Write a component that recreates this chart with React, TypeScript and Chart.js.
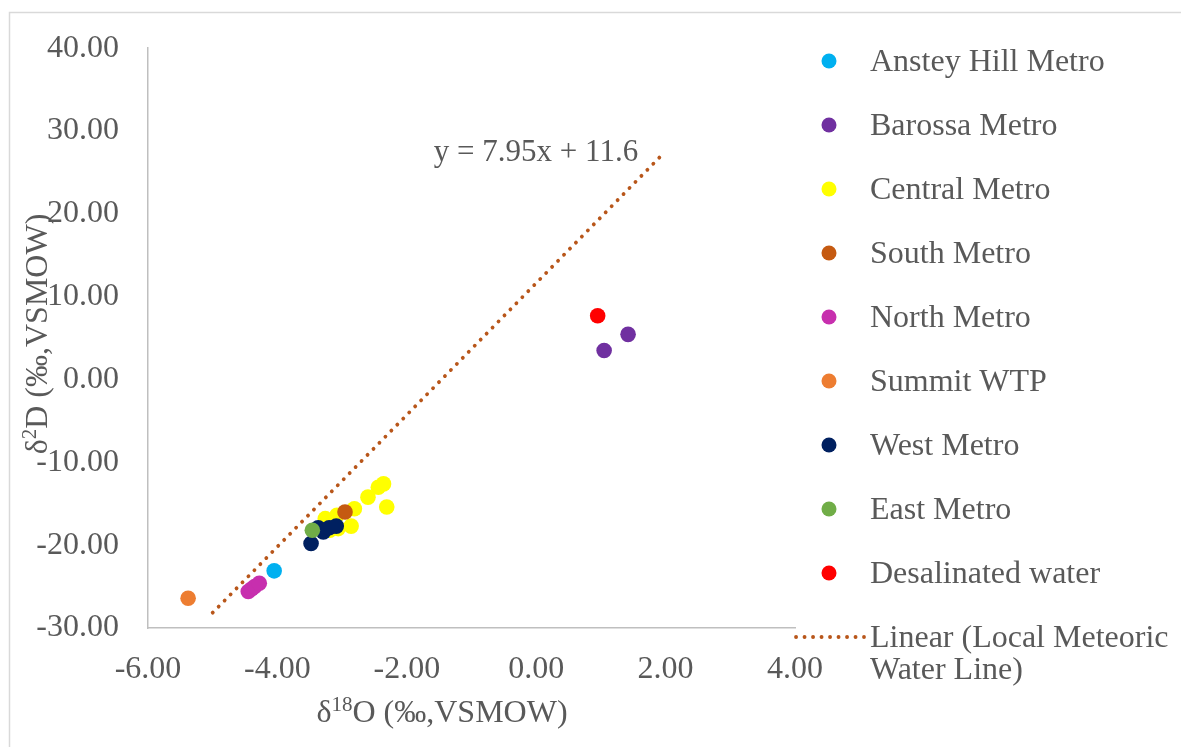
import React, { useEffect, useRef } from "react";
import { Chart, registerables } from "chart.js";

Chart.register(...registerables);

// ---------- data ----------
const seriesNames = [
  "Anstey Hill Metro",
  "Barossa Metro",
  "Central Metro",
  "South Metro",
  "North Metro",
  "Summit WTP",
  "West Metro",
  "East Metro",
  "Desalinated water",
];
const seriesColors = [
  "#00B0F0",
  "#7030A0",
  "#FFFF00",
  "#C55A11",
  "#C72FAE",
  "#ED7D31",
  "#002060",
  "#70AD47",
  "#FF0000",
];

const ansteyX = [-4.05];
const ansteyY = [-23.1];
const barossaX = [1.05, 1.42];
const barossaY = [3.5, 5.45];
const centralX = [-3.26, -3.08, -2.81, -2.86, -3.19, -2.6, -2.44, -2.36, -2.31, -3.06];
const centralY = [-16.8, -16.4, -15.6, -17.7, -18.2, -14.2, -13.0, -12.6, -15.4, -18.0];
const southX = [-2.955];
const southY = [-16.0];
const northX = [-4.45, -4.4, -4.35, -4.28];
const northY = [-25.6, -25.3, -25.0, -24.6];
const summitX = [-5.38];
const summitY = [-26.4];
const westX = [-3.48, -3.37, -3.29, -3.2, -3.09];
const westY = [-19.8, -17.9, -18.4, -17.9, -17.7];
const eastX = [-3.46];
const eastY = [-18.2];
const desalX = [0.95];
const desalY = [7.7];

const seriesX = [ansteyX, barossaX, centralX, southX, northX, summitX, westX, eastX, desalX];
const seriesY = [ansteyY, barossaY, centralY, southY, northY, summitY, westY, eastY, desalY];

// Local Meteoric Water Line (trendline) end points
const lineName = "Linear (Local Meteoric Water Line)";
const lineLegendLines = ["Linear (Local Meteoric", "Water Line)"];
const lineX = [-5.0, 1.98];
const lineY = [-28.15, 27.4];
const lineEquation = "y = 7.95x + 11.6";

const xTicks = [-6, -4, -2, 0, 2, 4];
const yTicks = [-30, -20, -10, 0, 10, 20, 30, 40];

// ---------- style ----------
const FONT = "'Liberation Serif', 'Times New Roman', serif";
const TEXT = "#595959";
const AXIS = "#BFBFBF";
const LINE_COLOR = "#B8561A";

function drawRich(
  ctx: CanvasRenderingContext2D,
  parts: { t: string; sup?: boolean }[],
  cx: number,
  baseline: number,
  size: number
) {
  const supSize = Math.round(size * 0.65);
  let total = 0;
  const widths = parts.map((p) => {
    ctx.font = `${p.sup ? supSize : size}px ${FONT}`;
    const w = ctx.measureText(p.t).width;
    total += w;
    return w;
  });
  let x = cx - total / 2;
  ctx.textAlign = "left";
  ctx.textBaseline = "alphabetic";
  parts.forEach((p, i) => {
    ctx.font = `${p.sup ? supSize : size}px ${FONT}`;
    ctx.fillText(p.t, x, p.sup ? baseline - size * 0.33 : baseline);
    x += widths[i];
  });
}

const overlayPlugin = {
  id: "overlay",
  beforeDraw(chart: any) {
    const ctx = chart.ctx as CanvasRenderingContext2D;
    ctx.save();
    ctx.fillStyle = "#ffffff";
    ctx.fillRect(0, 0, chart.width, chart.height);
    ctx.strokeStyle = "#D9D9D9";
    ctx.lineWidth = 1.5;
    ctx.strokeRect(9.5, 12.5, chart.width + 20, chart.height + 20);
    ctx.restore();
  },
  afterDraw(chart: any) {
    const ctx = chart.ctx as CanvasRenderingContext2D;
    ctx.save();
    ctx.fillStyle = TEXT;

    // equation label
    ctx.font = `31px ${FONT}`;
    ctx.textAlign = "center";
    ctx.textBaseline = "middle";
    ctx.fillText(lineEquation, 536, 153);

    // x axis title
    ctx.fillStyle = TEXT;
    drawRich(
      ctx,
      [{ t: "δ" }, { t: "18", sup: true }, { t: "O (‰,VSMOW)" }],
      442,
      722,
      32
    );

    // y axis title (rotated)
    ctx.save();
    ctx.translate(47, 334);
    ctx.rotate(-Math.PI / 2);
    drawRich(ctx, [{ t: "δ" }, { t: "2", sup: true }, { t: "D (‰,VSMOW)" }], 0, 0, 32);
    ctx.restore();

    // legend
    const datasets = chart.data.datasets;
    ctx.font = `32px ${FONT}`;
    ctx.textAlign = "left";
    ctx.textBaseline = "middle";
    datasets.forEach((ds: any, i: number) => {
      const rowY = 61 + 64 * i;
      if (ds.isTrend) {
        ctx.save();
        ctx.strokeStyle = ds.borderColor;
        ctx.lineWidth = ds.borderWidth;
        ctx.lineCap = "round";
        ctx.setLineDash(ds.borderDash);
        ctx.beginPath();
        ctx.moveTo(796, rowY);
        ctx.lineTo(864, rowY);
        ctx.stroke();
        ctx.restore();
        ctx.fillStyle = TEXT;
        lineLegendLines.forEach((ln, k) => ctx.fillText(ln, 870, rowY + 2 + 32 * k));
      } else {
        ctx.fillStyle = ds.backgroundColor;
        ctx.beginPath();
        ctx.arc(829, rowY, 7.5, 0, Math.PI * 2);
        ctx.fill();
        ctx.fillStyle = TEXT;
        ctx.fillText(ds.label, 870, rowY + 2);
      }
    });
    ctx.restore();
  },
};

export default function App() {
  const ref = useRef<HTMLCanvasElement | null>(null);

  useEffect(() => {
    if (!ref.current) return;
    const pointSets = seriesNames.map((name, i) => ({
      label: name,
      data: seriesX[i].map((x, k) => ({ x, y: seriesY[i][k] })),
      backgroundColor: seriesColors[i],
      borderColor: seriesColors[i],
      borderWidth: 0,
      pointRadius: 7.8,
      pointHoverRadius: 7.8,
      pointBorderWidth: 0,
      order: 50 - i,
    }));
    const trend: any = {
      label: lineName,
      isTrend: true,
      data: lineX.map((x, k) => ({ x, y: lineY[k] })),
      showLine: true,
      borderColor: LINE_COLOR,
      backgroundColor: LINE_COLOR,
      borderWidth: 3.8,
      borderDash: [0.1, 8.4],
      borderCapStyle: "round",
      pointRadius: 0,
      pointHoverRadius: 0,
      fill: false,
      order: 100,
    };

    const chart = new Chart(ref.current, {
      type: "scatter",
      data: { datasets: [...pointSets, trend] as any },
      options: {
        responsive: false,
        animation: false,
        events: [],
        layout: { padding: { left: 0, top: 45, right: 386, bottom: 0 } },
        plugins: {
          legend: { display: false },
          tooltip: { enabled: false },
          title: { display: false },
        },
        scales: {
          x: {
            type: "linear",
            min: -6,
            max: 4,
            afterFit: (s: any) => {
              s.height = 119;
            },
            afterBuildTicks: (s: any) => {
              s.ticks = xTicks.map((v) => ({ value: v }));
            },
            grid: { display: false, drawTicks: false },
            border: { display: true, color: AXIS, width: 1.5 },
            ticks: {
              padding: 22,
              maxRotation: 0,
              autoSkip: false,
              color: TEXT,
              font: { family: FONT, size: 32 },
              callback: (v: any) => Number(v).toFixed(2),
            },
          },
          y: {
            type: "linear",
            min: -30,
            max: 40,
            afterFit: (s: any) => {
              s.width = 148;
            },
            afterBuildTicks: (s: any) => {
              s.ticks = yTicks.map((v) => ({ value: v }));
            },
            grid: { display: false, drawTicks: false },
            border: { display: true, color: AXIS, width: 1.5 },
            ticks: {
              padding: 29,
              autoSkip: false,
              color: TEXT,
              font: { family: FONT, size: 32 },
              callback: (v: any) => Number(v).toFixed(2),
            },
          },
        },
      },
      plugins: [overlayPlugin],
    });
    return () => chart.destroy();
  }, []);

  return (
    <div style={{ position: "fixed", left: 0, top: 0, width: 1181, height: 747, background: "#fff" }}>
      <canvas ref={ref} width={1181} height={747} style={{ display: "block", width: 1181, height: 747 }} />
    </div>
  );
}
